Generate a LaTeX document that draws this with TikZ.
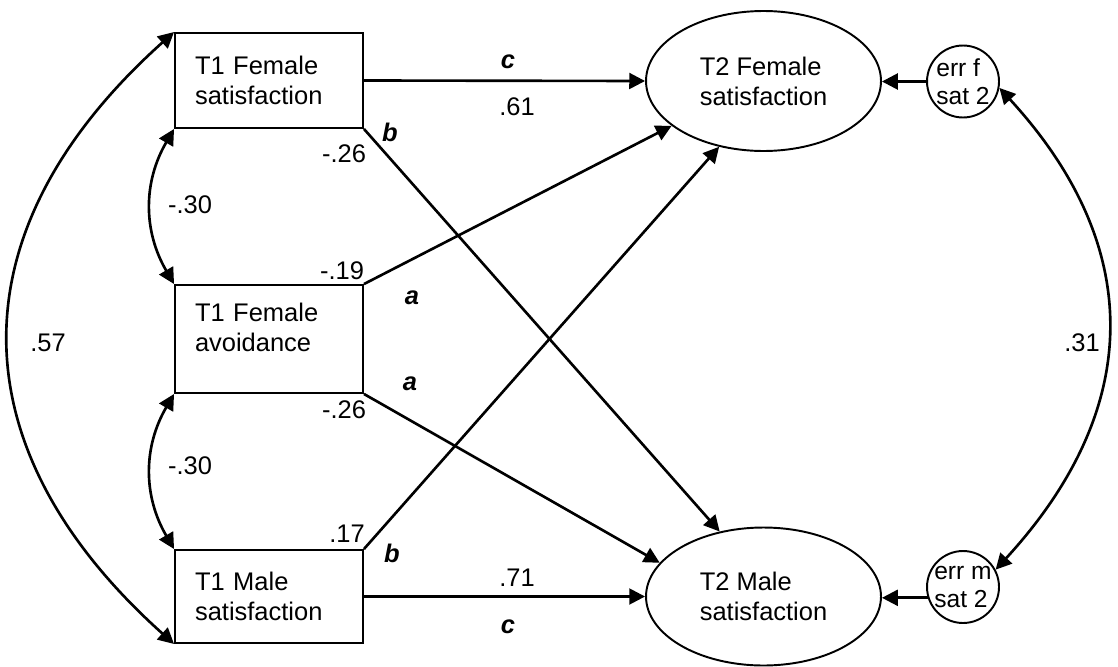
\documentclass[tikz,border=0pt]{standalone}
\usepackage{fontspec}
\setmainfont{Liberation Sans}
\usetikzlibrary{arrows.meta,shapes.geometric}

\begin{document}
\begin{tikzpicture}[x=0.02cm,y=-0.02cm,font=\fontsize{14.5}{17}\selectfont,
  >={Triangle[length=9pt,width=9pt]},
  obs/.style={draw,line width=1.1pt,rectangle,align=left,text width=2.96cm,inner xsep=0.4cm,inner ysep=0pt},
  lat/.style={draw,line width=1.1pt,ellipse,align=left,minimum width=4.7cm,minimum height=2.8cm,inner sep=0pt},
  errc/.style={draw,line width=1.1pt,circle,align=left,minimum size=1.44cm,inner sep=-3pt,font=\fontsize{14}{16}\selectfont},
  arr/.style={->,line width=1.5pt},
  cov/.style={<->,line width=1.5pt},
  path lbl/.style={font=\fontsize{14.5}{17}\selectfont\bfseries\itshape}]
\useasboundingbox (0,0) rectangle (1118,666);
\node [obs,minimum height=1.9cm] (fsat1) at (269,80.5) {T1 Female\\satisfaction};
\node [obs,minimum height=2.16cm] (favo1) at (269,339) {T1 Female\\avoidance\\[-3.4pt]\mbox{}};
\node [obs,minimum height=1.86cm] (msat1) at (269,596.5) {T1 Male\\satisfaction};
\node [lat] (fsat2) at (763.5,81) {T2 Female\\satisfaction};
\node [lat,minimum height=2.76cm] (msat2) at (763.5,596.5) {T2 Male\\satisfaction};
\node [errc] (errf) at (963,81.5) {err f\\sat 2};
\node [errc] (errm) at (963,587) {err m\\sat 2};

\draw [arr] (fsat1.east) -- (fsat2.west);
\draw [arr] (msat1.east) -- (msat2.west);
\draw [arr] (fsat1.south east) -- (msat2.124);
\draw [arr] (favo1.north east) -- (fsat2.206);
\draw [arr] (favo1.south east) -- (msat2.162);
\draw [arr] (msat1.north east) -- (fsat2.236);
\draw [arr] (errf.west) -- (errf.west -| fsat2.east);
\draw [arr] (errm.197) -- (errm.197 -| msat2.east);

\draw [cov] (fsat1.south west) .. controls +(-31,53) and +(-31,-53) .. (favo1.north west);
\draw [cov] (favo1.south west) .. controls +(-31,53) and +(-31,-53) .. (msat1.north west);
\draw [cov] (fsat1.north west) .. controls +(-220,197) and +(-220,-197) .. (msat1.south west);
\draw [cov] (errf.-10) .. controls +(147,160) and +(147,-160) .. (errm.28);

\node [path lbl] (cfs) at (508,62) {c};
\node (pfs) at (517,107) {.61};
\node (pms) at (517,578) {.71};
\node [path lbl] (cms) at (508,627) {c};
\node [path lbl] (bfs) at (390,132) {b};
\node (pfm) at (344,154) {-.26};
\node (pff) at (342,271) {-.19};
\node [path lbl] (aff) at (412,298) {a};
\node [path lbl] (afm) at (410,384) {a};
\node (pam) at (344,410) {-.26};
\node (pmf) at (347,534) {.17};
\node [path lbl] (bms) at (392,553) {b};
\node (rfa) at (190,205) {-.30};
\node (ram) at (190,466) {-.30};
\node (rfm) at (48,343) {.57};
\node (rer) at (1082,343) {.31};
\end{tikzpicture}
\end{document}
